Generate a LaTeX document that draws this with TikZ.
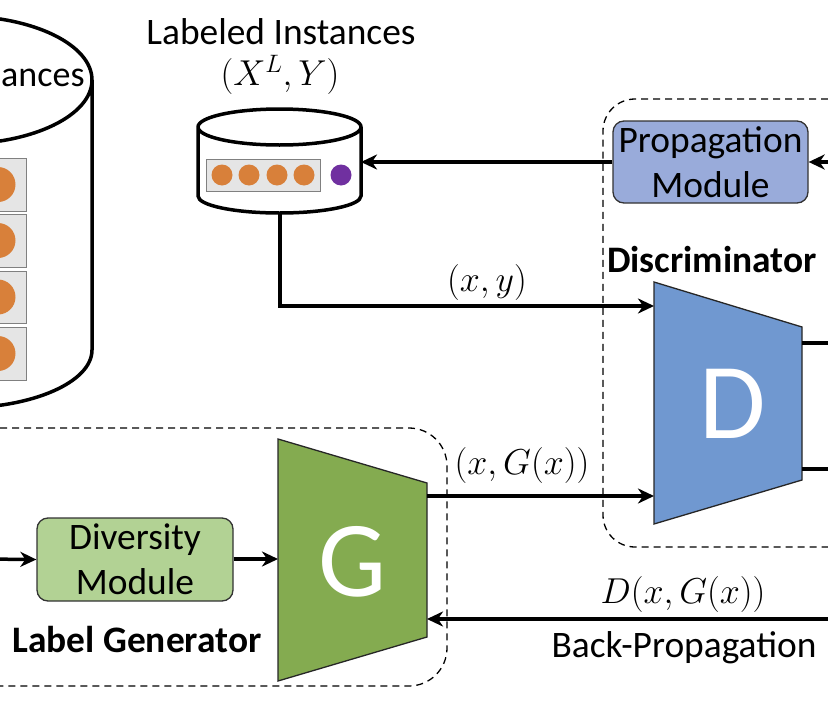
\RequirePackage{fix-cm}
\documentclass[tikz,border=0pt]{standalone}
\usepackage{fontspec}
\setmainfont{Carlito}
\usetikzlibrary{arrows.meta}
\definecolor{dblue}{RGB}{112,152,208}
\definecolor{ggreen}{RGB}{132,171,80}
\definecolor{pblue}{RGB}{153,171,218}
\definecolor{dgreen}{RGB}{178,210,148}
\definecolor{dotorange}{RGB}{216,128,58}
\definecolor{dotpurple}{RGB}{112,48,160}
\definecolor{cellgray}{RGB}{229,229,229}
\begin{document}
\begin{tikzpicture}[x=1pt,y=-1pt,
  conn/.style={line width=3.5pt,-{Stealth[length=16pt,width=15pt,inset=5pt]}},
  wire/.style={line width=3.5pt},
  grp/.style={line width=1.3pt,dash pattern=on 7pt off 5pt,rounded corners=32pt},
  module/.style={draw=black!80,line width=1.3pt,rounded corners=11pt,minimum width=195pt,minimum height=82pt,align=center,inner sep=0pt,font=\fontsize{37.4}{45}\selectfont},
  net/.style={draw=black!85,line width=1.3pt},
  lbl/.style={font=\fontsize{37.4}{44}\selectfont,inner sep=0pt},
  blbl/.style={font=\fontsize{37.4}{44}\selectfont\bfseries,inner sep=0pt},
  mlbl/.style={font=\fontsize{36}{42}\selectfont,inner sep=0pt},
  big/.style={font=\fontsize{108}{110}\selectfont,text=white,inner sep=0pt},
  cyl/.style={line width=3.5pt,fill=white},
  cell/.style={draw=black!50,line width=1pt,fill=cellgray},
  dot/.style={fill=dotorange},
]
\useasboundingbox (0,0) rectangle (828,723);
\clip (0,0) rectangle (828,723);

% ---------- left big cylinder (unlabeled instances) ----------
\draw[cyl] (92,80) -- (92,350) arc[start angle=0,end angle=180,x radius=132,y radius=58]
  -- (-172,80) arc[start angle=180,end angle=360,x radius=132,y radius=64]
  arc[start angle=0,end angle=180,x radius=132,y radius=64];
\node[lbl,anchor=base west,font=\fontsize{36}{42}\selectfont] (unl) at (1,86) {ances};
\foreach \yt/\yb in {158/211,214/267,271/323,327/380}{
  \draw[cell] (-80,\yt) rectangle (26,\yb);
  \fill[dot] (-2,{(\yt+\yb)/2}) circle[radius=17.5];
}

% ---------- small cylinder (labeled instances) ----------
\draw[cyl] (361,127) -- (361,196) arc[start angle=0,end angle=180,x radius=81.5,y radius=17]
  -- (198,127) arc[start angle=180,end angle=360,x radius=81.5,y radius=18]
  arc[start angle=0,end angle=180,x radius=81.5,y radius=18];
\draw[cell] (206,159) rectangle (320,191);
\foreach \xx in {222,249,277,304}{\fill[dot] (\xx,175) circle[radius=10.5];}
\fill[dotpurple] (341,175) circle[radius=10.5];
\coordinate (LIeast) at (361,162);
\coordinate (LIbot) at (280,213);
\node[lbl] (lititle) at (281,32) {Labeled Instances};
\node[mlbl] (limath) at (280,75) {$(X^{L},Y)$};

% ---------- discriminator group ----------
\draw[grp] (900,99) -- (603,99) -- (603,547) -- (900,547);
\node[module,fill=pblue] (prop) at (710.5,162) {Propagation\\Module};
\node[blbl] (dtitle) at (712,260) {Discriminator};
\draw[net,fill=dblue] (654,282) -- (802,327) -- (802,480) -- (654,524) -- cycle;
\node[big] (Dlet) at (733,404) {D};
\coordinate (Din1) at (654,306);
\coordinate (Din2) at (654,496);
\coordinate (Dout1) at (802,343);
\coordinate (Dout2) at (802,469);
\coordinate (Dfar1) at (840,343);
\coordinate (Dfar2) at (840,469);
\coordinate (propfar) at (840,162);

% ---------- generator group ----------
\draw[grp,rounded corners=38pt] (-60,428) -- (447,428) -- (447,686) -- (-60,686);
\node[module,fill=dgreen,minimum width=196pt,minimum height=83pt] (div) at (135,559.5) {Diversity\\Module};
\node[blbl] (gtitle) at (137,640) {Label Generator};
\draw[net,fill=ggreen] (278,439) -- (427,483) -- (427,637) -- (278,681) -- cycle;
\node[big] (Glet) at (353,562) {G};
\coordinate (Gin) at (278,559);
\coordinate (Gout) at (427,496);
\coordinate (Gback) at (427,619);
\coordinate (divfar) at (-20,559);
\coordinate (bpfar) at (840,619);

% ---------- connectors ----------
\draw[conn] (prop.west |- LIeast) -- (LIeast);
\draw[conn] (propfar) -- (prop.east);
\draw[conn] (LIbot) |- (Din1);
\draw[conn] (Gout) -- (Din2);
\draw[wire] (Dout1) -- (Dfar1);
\draw[wire] (Dout2) -- (Dfar2);
\draw[conn] (divfar) -- (div.west);
\draw[conn] (div.east |- Gin) -- (Gin);
\draw[conn] (bpfar) -- (Gback);

% ---------- connector labels ----------
\node[mlbl] (xy) at (487,282) {$(x,y)$};
\node[mlbl] (xgx) at (522,465) {$\big(x,G(x)\big)$};
\node[mlbl] (dxgx) at (683,594) {$D\big(x,G(x)\big)$};
\node[lbl] (bp) at (684,648) {Back-Propagation};
\end{tikzpicture}
\end{document}
